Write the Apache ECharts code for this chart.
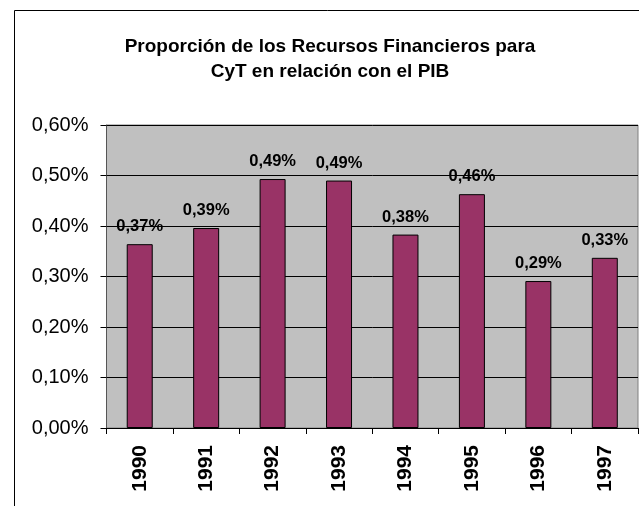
<!DOCTYPE html>
<html>
<head>
<meta charset="utf-8">
<script src="https://cdn.jsdelivr.net/npm/echarts@6/dist/echarts.min.js"></script>
<style>
html,body{margin:0;padding:0;background:#fff;}
#chart{width:639px;height:506px;}
</style>
</head>
<body>
<div id="chart"></div>
<script>
const categories = ['1990','1991','1992','1993','1994','1995','1996','1997'];
const values = [0.364, 0.396, 0.493, 0.490, 0.383, 0.463, 0.291, 0.337];
const valueLabels = ['0,37%','0,39%','0,49%','0,49%','0,38%','0,46%','0,29%','0,33%'];
const yTicks = {min: 0, max: 0.6, interval: 0.1};
const titleText = 'Proporción de los Recursos Financieros para\nCyT en relación con el PIB';

const chart = echarts.init(document.getElementById('chart'));
chart.setOption({
  animation: false,
  textStyle: {fontFamily: 'Liberation Sans, Arial, sans-serif'},
  graphic: [{
    type: 'rect', left: 12, top: 8, z: -10,
    shape: {width: 700, height: 600},
    style: {fill: 'none', stroke: '#000', lineWidth: 1}
  }],
  title: {
    text: titleText,
    left: 325, top: 29, textAlign: 'center',
    textStyle: {fontSize: 19, fontWeight: 'bold', color: '#000', lineHeight: 25,
      fontFamily: 'Liberation Sans, Arial, sans-serif'}
  },
  grid: {
    left: 106.5, right: 1, top: 125, bottom: 78,
    show: true, backgroundColor: '#c0c0c0', borderColor: '#808080', borderWidth: 1
  },
  xAxis: {
    type: 'category',
    data: categories,
    axisLine: {show: true, lineStyle: {color: '#000', width: 1}},
    axisTick: {show: true, length: 6, lineStyle: {color: '#000'}},
    axisLabel: {rotate: 90, margin: 17, fontSize: 21, fontWeight: 'bold', color: '#000',
      fontFamily: 'Liberation Sans, Arial, sans-serif'},
    splitLine: {show: false}
  },
  yAxis: {
    type: 'value',
    min: yTicks.min, max: yTicks.max, interval: yTicks.interval,
    axisLine: {show: true, lineStyle: {color: '#555', width: 1}},
    axisTick: {show: true, length: 6, lineStyle: {color: '#000'}},
    axisLabel: {margin: 18, fontSize: 20, color: '#000',
      fontFamily: 'Liberation Sans, Arial, sans-serif',
      formatter: v => v.toFixed(2).replace('.', ',') + '%'},
    splitLine: {show: true, lineStyle: {color: '#000', width: 1}}
  },
  series: [{
    type: 'bar',
    data: values,
    barWidth: 26,
    itemStyle: {color: '#993366', borderColor: '#000', borderWidth: 1},
    label: {
      show: true, position: 'top', distance: 9,
      fontSize: 16.5, fontWeight: 'bold', color: '#000',
      fontFamily: 'Liberation Sans, Arial, sans-serif',
      formatter: p => valueLabels[p.dataIndex]
    }
  }]
});
</script>
</body>
</html>
